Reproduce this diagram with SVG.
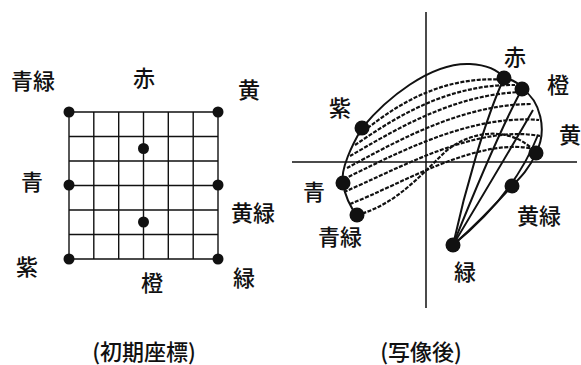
<svg xmlns="http://www.w3.org/2000/svg" width="581" height="365" viewBox="0 0 581 365">
<style>
.lbl{font-family:"Noto Sans CJK JP","Noto Sans CJK SC",sans-serif;font-size:22px;font-weight:500;fill:#111;text-anchor:middle}
.grid{stroke:#111;stroke-width:1.4;fill:none}
.axis{stroke:#111;stroke-width:1.5;fill:none}
.hatch{stroke:#111;stroke-width:2.2;fill:none;stroke-dasharray:4 1.5}
.curve{stroke:#111;stroke-width:2;fill:none}
.dot{fill:#111}
</style>
<rect width="581" height="365" fill="#fff"/>
<g id="initial-grid">
<path class="grid" d="M69,112H218M69,136.5H218M69,161H218M69,185.5H218M69,210H218M69,234.5H218M69,259H218M69,112V259M93.8,112V259M118.7,112V259M143.5,112V259M168.3,112V259M193.2,112V259M218,112V259"/>
</g>
<g id="initial-points">
<circle class="dot" cx="69" cy="112" r="5.5"/>
<circle class="dot" cx="218" cy="112" r="5.5"/>
<circle class="dot" cx="69" cy="185" r="5.5"/>
<circle class="dot" cx="218" cy="185" r="5.5"/>
<circle class="dot" cx="69" cy="259" r="5.5"/>
<circle class="dot" cx="218" cy="259" r="5.5"/>
<circle class="dot" cx="143.5" cy="148.5" r="5.5"/>
<circle class="dot" cx="143.5" cy="222" r="5.5"/>
</g>
<g id="initial-labels">
<text class="lbl" x="33" y="89">青緑</text>
<text class="lbl" x="144" y="86">赤</text>
<text class="lbl" x="249" y="98">黄</text>
<text class="lbl" x="32" y="190">青</text>
<text class="lbl" x="253" y="221">黄緑</text>
<text class="lbl" x="27" y="275">紫</text>
<text class="lbl" x="152" y="291">橙</text>
<text class="lbl" x="244" y="286">緑</text>
<text class="lbl" x="144" y="360">(初期座標)</text>
</g>
<g id="axes">
<path class="axis" d="M426,12V308M292,162H577"/>
</g>
<g id="connectors">
<path class="hatch" d="M359,135 C392,108 440,74 508,80"/>
<path class="hatch" d="M355,145 C392,120 445,84 515,85"/>
<path class="hatch" d="M350,156 C392,132 452,94 522,92"/>
<path class="hatch" d="M347,168 C392,144 460,104 532,104"/>
<path class="hatch" d="M344,179 C392,156 468,114 539,120"/>
<path class="hatch" d="M344,192 C396,170 476,124 540,136"/>
<path class="hatch" d="M350,204 C402,184 482,134 538,150"/>
<path class="hatch" d="M357,215 C395,205 420,176 445,152 C470,130 512,125 536,153"/>
<path class="curve" d="M362,128 C385,100 430,62 470,64 C488,65 498,70 504,78"/>
<path class="curve" d="M504,78 C515,80 520,85 522,89 C540,100 548,130 536,153 C530,168 520,178 512,186 C495,205 470,230 453,245"/>
<path class="curve" d="M362,128 C352,145 340,170 343,183 C345,195 350,207 357,215"/>
<path class="curve" d="M453,245 C465,190 485,120 504,78"/>
<path class="curve" d="M453,245 C475,190 500,130 522,89"/>
<path class="curve" d="M453,245 C480,200 510,150 533,110"/>
<path class="curve" d="M453,245 C490,215 520,180 538,135"/>
</g>
<g id="mapped-points">
<circle class="dot" cx="362" cy="128" r="7.5"/>
<circle class="dot" cx="504" cy="78" r="7.5"/>
<circle class="dot" cx="522" cy="89" r="7.5"/>
<circle class="dot" cx="536" cy="153" r="7.5"/>
<circle class="dot" cx="343" cy="183" r="7.5"/>
<circle class="dot" cx="357" cy="215" r="7.5"/>
<circle class="dot" cx="512" cy="186" r="7.5"/>
<circle class="dot" cx="453" cy="245" r="7.5"/>
</g>
<g id="mapped-labels">
<text class="lbl" x="340" y="116">紫</text>
<text class="lbl" x="515" y="65">赤</text>
<text class="lbl" x="558" y="93">橙</text>
<text class="lbl" x="570" y="143">黄</text>
<text class="lbl" x="314" y="200">青</text>
<text class="lbl" x="340" y="245">青緑</text>
<text class="lbl" x="539" y="224">黄緑</text>
<text class="lbl" x="465" y="280">緑</text>
<text class="lbl" x="421" y="360">(写像後)</text>
</g>
</svg>
